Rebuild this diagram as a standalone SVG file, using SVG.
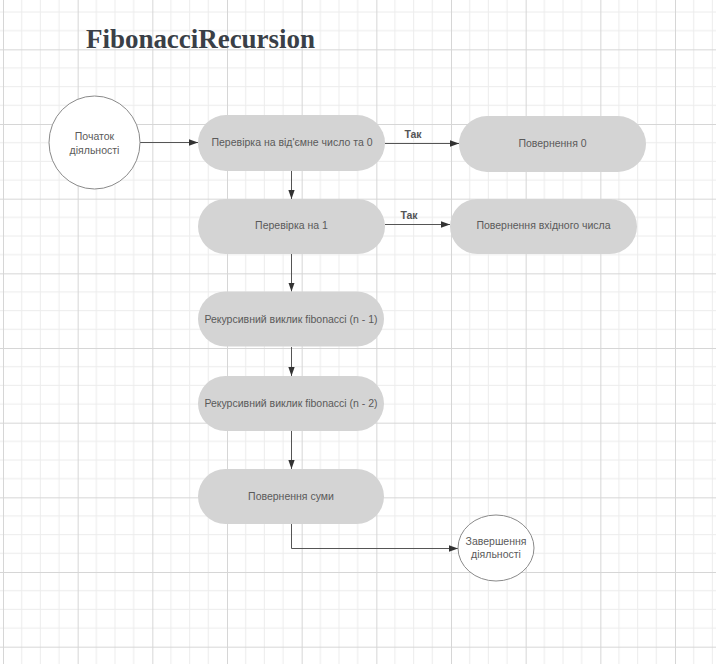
<svg xmlns="http://www.w3.org/2000/svg" width="716" height="664" viewBox="0 0 716 664">
<defs>
<pattern id="grid" x="3" y="-25.33" width="74.667" height="74.667" patternUnits="userSpaceOnUse">
<path d="M18.667 0V74.667M37.333 0V74.667M56 0V74.667M0 18.667H74.667M0 37.333H74.667M0 56H74.667" stroke="#ececec" stroke-width="1" fill="none"/>
<path d="M0.5 0V74.667M0 0.5H74.667" stroke="#d6d6d6" stroke-width="1" fill="none"/>
</pattern>
<marker id="arr" viewBox="0 0 10 10" refX="10" refY="5" markerWidth="9" markerHeight="9" markerUnits="userSpaceOnUse" orient="auto">
<path d="M0 1.5L10 5L0 8.5Z" fill="#333"/>
</marker>
<style>
.box{fill:#d4d4d4;stroke:none}
.circ{fill:#fff;stroke:#8a8a8a;stroke-width:1}
.t{font-family:"Liberation Sans",Arial,sans-serif;font-size:10.5px;fill:#5a5a5a;text-anchor:middle}
.lbl{font-family:"Liberation Sans",Arial,sans-serif;font-size:10.5px;font-weight:bold;fill:#555;text-anchor:middle}
.c{fill:none;stroke:#555;stroke-width:1}
.title{font-family:"Liberation Serif","Times New Roman",serif;font-size:27px;font-weight:bold;fill:#3a3f47}
</style>
</defs>
<rect width="716" height="664" fill="#fff"/>
<rect width="716" height="664" fill="url(#grid)"/>
<text class="title" x="86" y="48" textLength="229" lengthAdjust="spacing">FibonacciRecursion</text>

<g id="connectors">
<path class="c" d="M140 142.5H198" marker-end="url(#arr)"/>
<path class="c" d="M385 143.5H459" marker-end="url(#arr)"/>
<text class="lbl" x="413" y="138">Так</text>
<path class="c" d="M385 224.5H450" marker-end="url(#arr)"/>
<text class="lbl" x="409" y="219">Так</text>
<path class="c" d="M291.5 171V199" marker-end="url(#arr)"/>
<path class="c" d="M291.5 254V291.5" marker-end="url(#arr)"/>
<path class="c" d="M291.5 347V376" marker-end="url(#arr)"/>
<path class="c" d="M291.5 431V469" marker-end="url(#arr)"/>
<path class="c" d="M291.5 524V548.5H458" marker-end="url(#arr)"/>
</g>

<g id="start">
<ellipse class="circ" cx="94.5" cy="142.5" rx="45.5" ry="46.5"/>
<text class="t" x="94.5" y="140">Початок</text>
<text class="t" x="94.5" y="154">діяльності</text>
</g>
<g id="check0">
<rect class="box" x="198" y="115" width="187" height="56" rx="28" ry="28"/>
<text class="t" x="292" y="146">Перевірка на від'ємне число та 0</text>
</g>
<g id="return0">
<rect class="box" x="459" y="116" width="187" height="56" rx="28" ry="28"/>
<text class="t" x="552.5" y="147">Повернення 0</text>
</g>
<g id="check1">
<rect class="box" x="198" y="199" width="187" height="55" rx="27.5" ry="27.5"/>
<text class="t" x="291.5" y="229">Перевірка на 1</text>
</g>
<g id="returnInput">
<rect class="box" x="450" y="199" width="187" height="55" rx="27.5" ry="27.5"/>
<text class="t" x="543.5" y="229">Повернення вхідного числа</text>
</g>
<g id="rec1">
<rect class="box" x="198" y="291.5" width="186" height="55" rx="27.5" ry="27.5"/>
<text class="t" x="291" y="323">Рекурсивний виклик fibonacci (n - 1)</text>
</g>
<g id="rec2">
<rect class="box" x="198" y="376" width="186" height="55" rx="27.5" ry="27.5"/>
<text class="t" x="291" y="407">Рекурсивний виклик fibonacci (n - 2)</text>
</g>
<g id="returnSum">
<rect class="box" x="198" y="469" width="186" height="55" rx="27.5" ry="27.5"/>
<text class="t" x="291" y="500">Повернення суми</text>
</g>
<g id="end">
<ellipse class="circ" cx="496" cy="548" rx="38" ry="33"/>
<text class="t" x="496" y="545">Завершення</text>
<text class="t" x="496" y="558">діяльності</text>
</g>
</svg>
